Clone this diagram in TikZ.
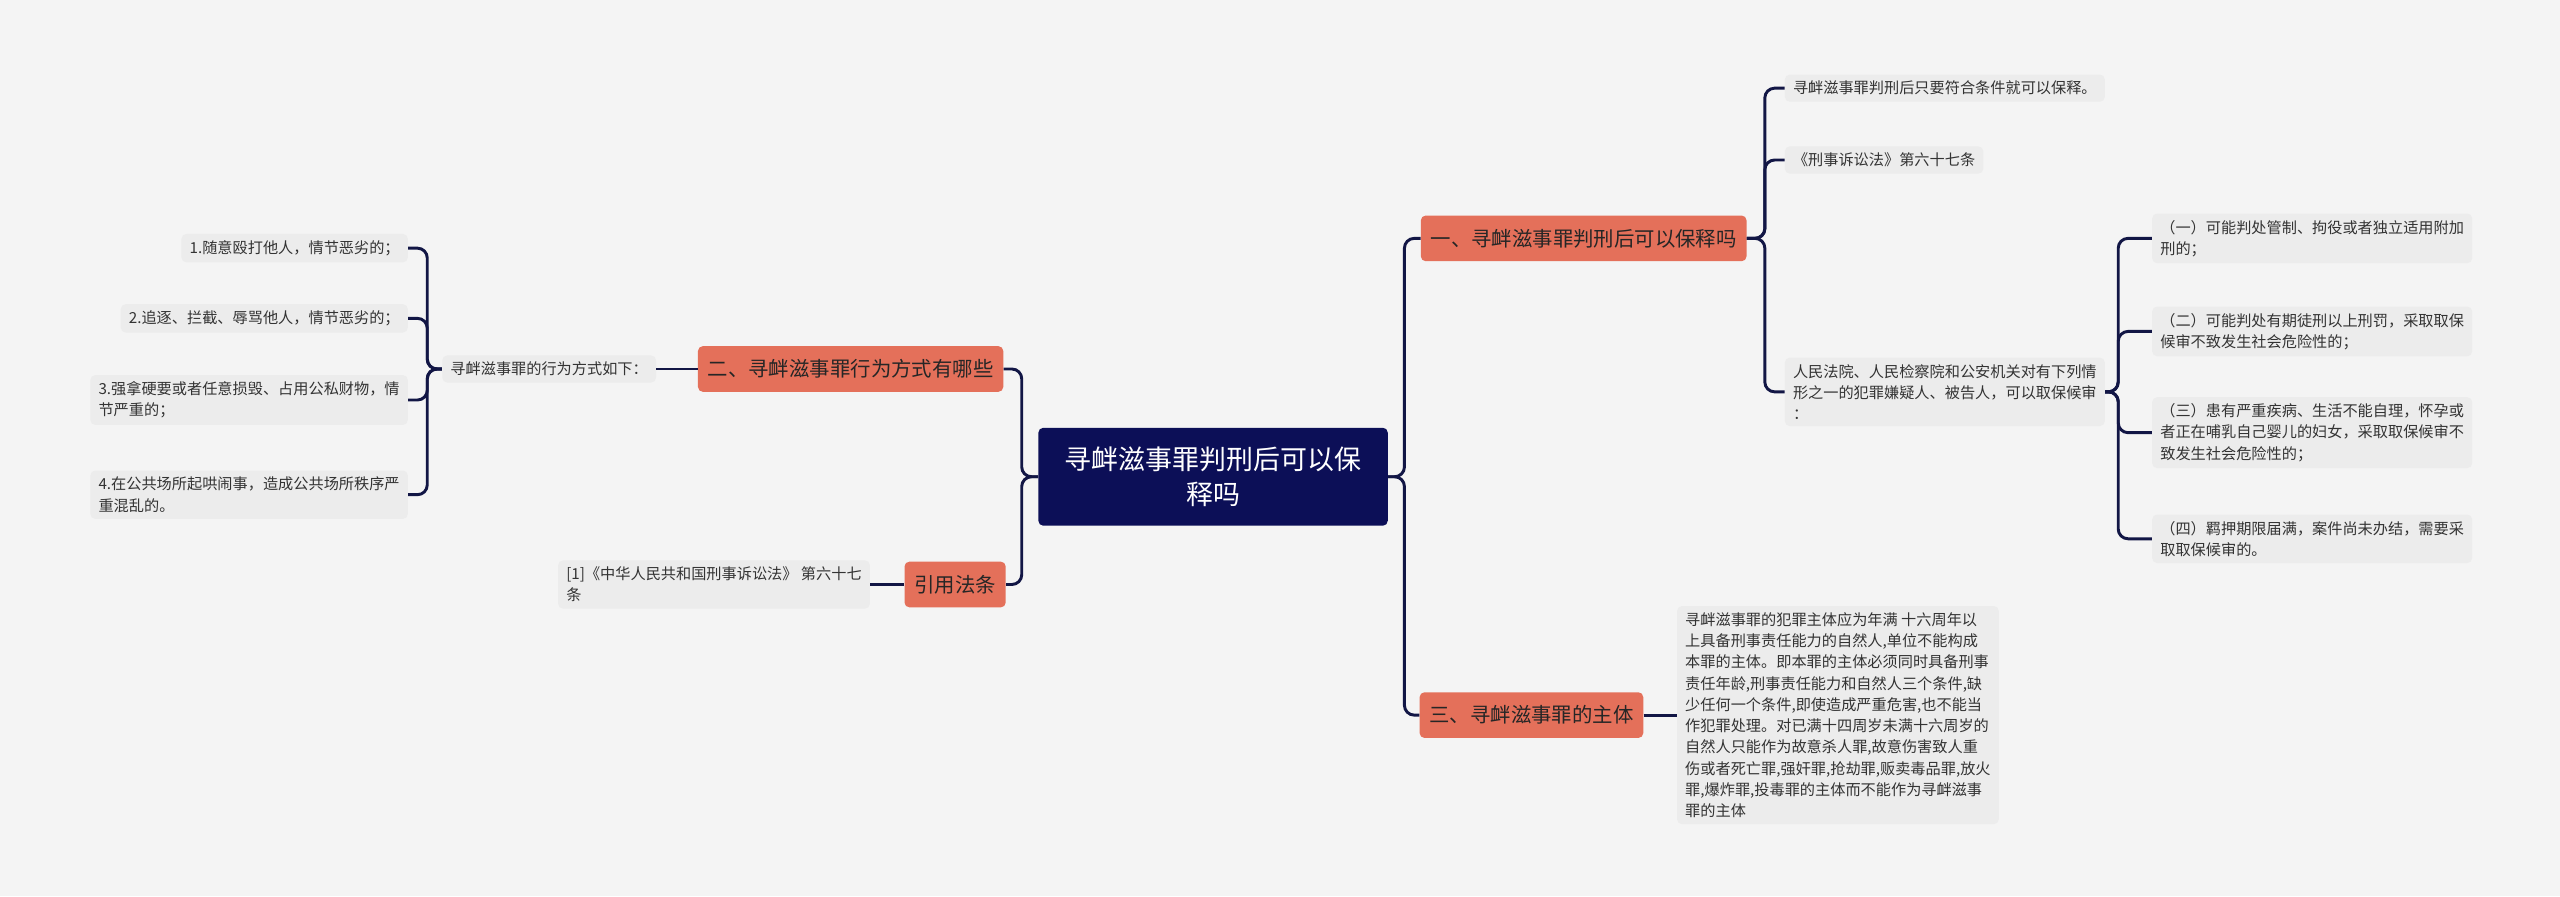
\documentclass[tikz,border=0pt]{standalone}
\usepackage{fontspec}
\setmainfont{Noto Sans CJK SC}
\definecolor{bgc}{HTML}{F4F4F4}
\definecolor{leafc}{HTML}{ECECEC}
\definecolor{navy}{HTML}{0C0F57}
\definecolor{salmon}{HTML}{E4705A}
\definecolor{linec}{HTML}{121645}
\tikzset{
  leaf/.style={fill=leafc,rounded corners=3pt,inner xsep=5pt,inner ysep=4pt,
    font=\fontsize{9.3}{13}\selectfont,text=black!80,align=left},
  branch/.style={fill=salmon,rounded corners=3pt,inner xsep=6pt,minimum height=28pt,
    font=\fontsize{12.5}{15}\selectfont,text=black!85},
  rootbox/.style={fill=navy,rounded corners=3pt,minimum width=214pt,minimum height=60pt,
    font=\fontsize{16.5}{21}\selectfont,text=white,align=center},
  link/.style={draw=linec,line width=1.8pt,rounded corners=6pt}
}
\begin{document}
\begin{tikzpicture}[x=1pt,y=-1pt]
  \useasboundingbox[fill=bgc] (0,0) rectangle (1568,549);
  % centre and main branches
  \node[rootbox] (root) at (743,292) {寻衅滋事罪判刑后可以保\\释吗};
  \node[branch] (b1) at (970,146) {一、寻衅滋事罪判刑后可以保释吗};
  \node[branch] (b2) at (521,226) {二、寻衅滋事罪行为方式有哪些};
  \node[branch] (b3) at (585,358) {引用法条};
  \node[branch] (b4) at (938,438) {三、寻衅滋事罪的主体};
  % right side leaves
  \node[leaf,anchor=west] (r1) at (1093,54) {寻衅滋事罪判刑后只要符合条件就可以保释。};
  \node[leaf,anchor=west] (r2) at (1093,98) {《刑事诉讼法》第六十七条};
  \node[leaf,anchor=west] (r3) at (1093,240) {人民法院、人民检察院和公安机关对有下列情\\形之一的犯罪嫌疑人、被告人，可以取保候审\\：};
  \node[leaf,anchor=west] (s1) at (1318,146) {（一）可能判处管制、拘役或者独立适用附加\\刑的；};
  \node[leaf,anchor=west] (s2) at (1318,203) {（二）可能判处有期徒刑以上刑罚，采取取保\\候审不致发生社会危险性的；};
  \node[leaf,anchor=west] (s3) at (1318,265) {（三）患有严重疾病、生活不能自理，怀孕或\\者正在哺乳自己婴儿的妇女，采取取保候审不\\致发生社会危险性的；};
  \node[leaf,anchor=west] (s4) at (1318,330) {（四）羁押期限届满，案件尚未办结，需要采\\取取保候审的。};
  \node[leaf,anchor=west] (r4) at (1027,438) {寻衅滋事罪的犯罪主体应为年满 十六周年以\\上具备刑事责任能力的自然人,单位不能构成\\本罪的主体。即本罪的主体必须同时具备刑事\\责任年龄,刑事责任能力和自然人三个条件,缺\\少任何一个条件,即使造成严重危害,也不能当\\作犯罪处理。对已满十四周岁未满十六周岁的\\自然人只能作为故意杀人罪,故意伤害致人重\\伤或者死亡罪,强奸罪,抢劫罪,贩卖毒品罪,放火\\罪,爆炸罪,投毒罪的主体而不能作为寻衅滋事\\罪的主体};
  % left side leaves
  \node[leaf,anchor=east] (m1) at (402,226) {寻衅滋事罪的行为方式如下：};
  \node[leaf,anchor=east] (l1) at (250,152) {1.随意殴打他人，情节恶劣的；};
  \node[leaf,anchor=east] (l2) at (250,195) {2.追逐、拦截、辱骂他人，情节恶劣的；};
  \node[leaf,anchor=east] (l3) at (250,245) {3.强拿硬要或者任意损毁、占用公私财物，情\\节严重的；};
  \node[leaf,anchor=east] (l4) at (250,303) {4.在公共场所起哄闹事，造成公共场所秩序严\\重混乱的。};
  \node[leaf,anchor=east] (q1) at (533,358) {[1]《中华人民共和国刑事诉讼法》 第六十七\\条};
  % connectors
  \foreach \b in {b1,b4}
    \draw[link] (root.east) -- ++(10,0) |- (\b.west);
  \foreach \b in {b2,b3}
    \draw[link] (root.west) -- ++(-10,0) |- (\b.east);
  \foreach \l in {r1,r2,r3}
    \draw[link] (b1.east) -- ++(11,0) |- (\l.west);
  \foreach \l in {s1,s2,s3,s4}
    \draw[link] (r3.east) -- ++(8,0) |- (\l.west);
  \draw[link] (b4.east) -- (r4.west);
  \draw[link] (b2.west) -- (m1.east);
  \foreach \l in {l1,l2,l3,l4}
    \draw[link] (m1.west) -- ++(-9,0) |- (\l.east);
  \draw[link] (b3.west) -- (q1.east);
\end{tikzpicture}
\end{document}
